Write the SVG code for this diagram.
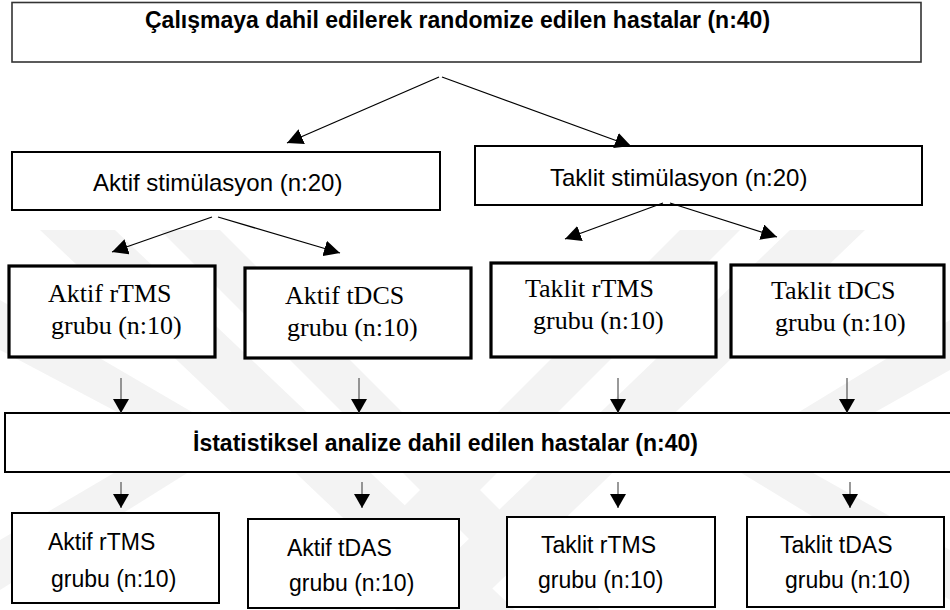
<svg xmlns="http://www.w3.org/2000/svg" width="950" height="610" viewBox="0 0 950 610">
<style>
.box{fill:#fff;stroke:#000;stroke-width:2}
.thin{fill:#fff;stroke:#333;stroke-width:1.6}
.thick{fill:#fff;stroke:#000;stroke-width:3.2}
.sans{font-family:"Liberation Sans",Arial,sans-serif;font-size:23px;fill:#000}
.stim{font-family:"Liberation Sans",Arial,sans-serif;font-size:24px;fill:#000}
.bold{font-family:"Liberation Sans",Arial,sans-serif;font-size:23px;font-weight:bold;fill:#000}
.serif{font-family:"Liberation Serif","Times New Roman",serif;font-size:26px;fill:#000}
.wm{fill:#f3f3f3}
.c{fill:none;stroke:#000;stroke-width:1.3}
.v{fill:none;stroke:#555;stroke-width:1.2}
</style>
<defs>
<marker id="ah" markerUnits="userSpaceOnUse" markerWidth="16" markerHeight="16" viewBox="0 0 16 16" refX="16" refY="8" orient="auto">
<path d="M0,0 L16,8 L0,16 z" fill="#000"/>
</marker>
<marker id="ahd" markerUnits="userSpaceOnUse" markerWidth="14" markerHeight="16" viewBox="0 0 14 16" refX="14" refY="8" orient="auto">
<path d="M0,0 L14,8 L0,16 z" fill="#000"/>
</marker>
</defs>
<rect width="950" height="610" fill="#fff"/>
<g id="watermark">
<polygon class="wm" points="40,230 115,230 515,610 440,610"/>
<polygon class="wm" points="160,230 220,230 600,610 540,610"/>
<polygon class="wm" points="790,230 865,230 470,610 395,610"/>
<polygon class="wm" points="680,230 740,230 360,610 300,610"/>
<polygon class="wm" points="0,300 240,440 0,590 0,540 170,440 0,350"/>
<polygon class="wm" points="950,320 720,460 950,600 950,550 790,460 950,370"/>
</g>
<g id="n-top">
<rect class="thin" x="12" y="2.5" width="909" height="59.5"/>
<text class="bold" x="145" y="28">Çalışmaya dahil edilerek randomize edilen hastalar (n:40)</text>
</g>
<g id="n-aktif-stim">
<rect class="box" x="12" y="152" width="428" height="58"/>
<text class="stim" x="93" y="191">Aktif stimülasyon (n:20)</text>
</g>
<g id="n-taklit-stim">
<rect class="box" x="475" y="146" width="447" height="59"/>
<text class="stim" x="550" y="186">Taklit stimülasyon (n:20)</text>
</g>
<g id="n-aktif-rtms-1">
<rect class="thick" x="9" y="266" width="206" height="91"/>
<text class="serif" x="48" y="302">Aktif rTMS</text>
<text class="serif" x="51" y="334">grubu (n:10)</text>
</g>
<g id="n-aktif-tdcs-1">
<rect class="thick" x="245" y="268" width="226" height="90"/>
<text class="serif" x="285" y="304">Aktif tDCS</text>
<text class="serif" x="287" y="336">grubu (n:10)</text>
</g>
<g id="n-taklit-rtms-1">
<rect class="thick" x="491" y="263" width="225" height="94"/>
<text class="serif" x="525" y="297">Taklit rTMS</text>
<text class="serif" x="533" y="329">grubu (n:10)</text>
</g>
<g id="n-taklit-tdcs-1">
<rect class="thick" x="731" y="265" width="213" height="92"/>
<text class="serif" x="771" y="299">Taklit tDCS</text>
<text class="serif" x="775" y="331">grubu (n:10)</text>
</g>
<g id="n-istat">
<rect class="box" x="5" y="413" width="950" height="59"/>
<text class="bold" x="193" y="451">İstatistiksel analize dahil edilen hastalar (n:40)</text>
</g>
<g id="n-aktif-rtms-2">
<rect class="box" x="12" y="513" width="207" height="90"/>
<text class="sans" x="48" y="550">Aktif rTMS</text>
<text class="sans" x="51" y="587">grubu (n:10)</text>
</g>
<g id="n-aktif-tdas-2">
<rect class="box" x="248" y="519" width="211" height="89"/>
<text class="sans" x="287" y="556">Aktif tDAS</text>
<text class="sans" x="289" y="591">grubu (n:10)</text>
</g>
<g id="n-taklit-rtms-2">
<rect class="box" x="507" y="517" width="208" height="90"/>
<text class="sans" x="541" y="553">Taklit rTMS</text>
<text class="sans" x="538" y="588">grubu (n:10)</text>
</g>
<g id="n-taklit-tdas-2">
<rect class="box" x="747" y="517" width="197" height="90"/>
<text class="sans" x="780" y="553">Taklit tDAS</text>
<text class="sans" x="785" y="588">grubu (n:10)</text>
</g>
<g id="connectors">
<line class="c" x1="439" y1="77" x2="287" y2="143" marker-end="url(#ah)"/>
<line class="c" x1="442" y1="77" x2="631" y2="146" marker-end="url(#ah)"/>
<line class="c" x1="212" y1="217" x2="112" y2="252" marker-end="url(#ah)"/>
<line class="c" x1="218" y1="217" x2="340" y2="253" marker-end="url(#ah)"/>
<line class="c" x1="663" y1="203" x2="565" y2="239" marker-end="url(#ah)"/>
<line class="c" x1="670" y1="203" x2="777" y2="237" marker-end="url(#ah)"/>
<line class="v" x1="121" y1="378" x2="121" y2="413" marker-end="url(#ahd)"/>
<line class="v" x1="359" y1="378" x2="359" y2="413" marker-end="url(#ahd)"/>
<line class="v" x1="618" y1="378" x2="618" y2="413" marker-end="url(#ahd)"/>
<line class="v" x1="847" y1="378" x2="847" y2="413" marker-end="url(#ahd)"/>
<line class="v" x1="121" y1="482" x2="121" y2="508" marker-end="url(#ahd)"/>
<line class="v" x1="362" y1="482" x2="362" y2="508" marker-end="url(#ahd)"/>
<line class="v" x1="618" y1="482" x2="618" y2="508" marker-end="url(#ahd)"/>
<line class="v" x1="850" y1="482" x2="850" y2="508" marker-end="url(#ahd)"/>
</g>
</svg>
